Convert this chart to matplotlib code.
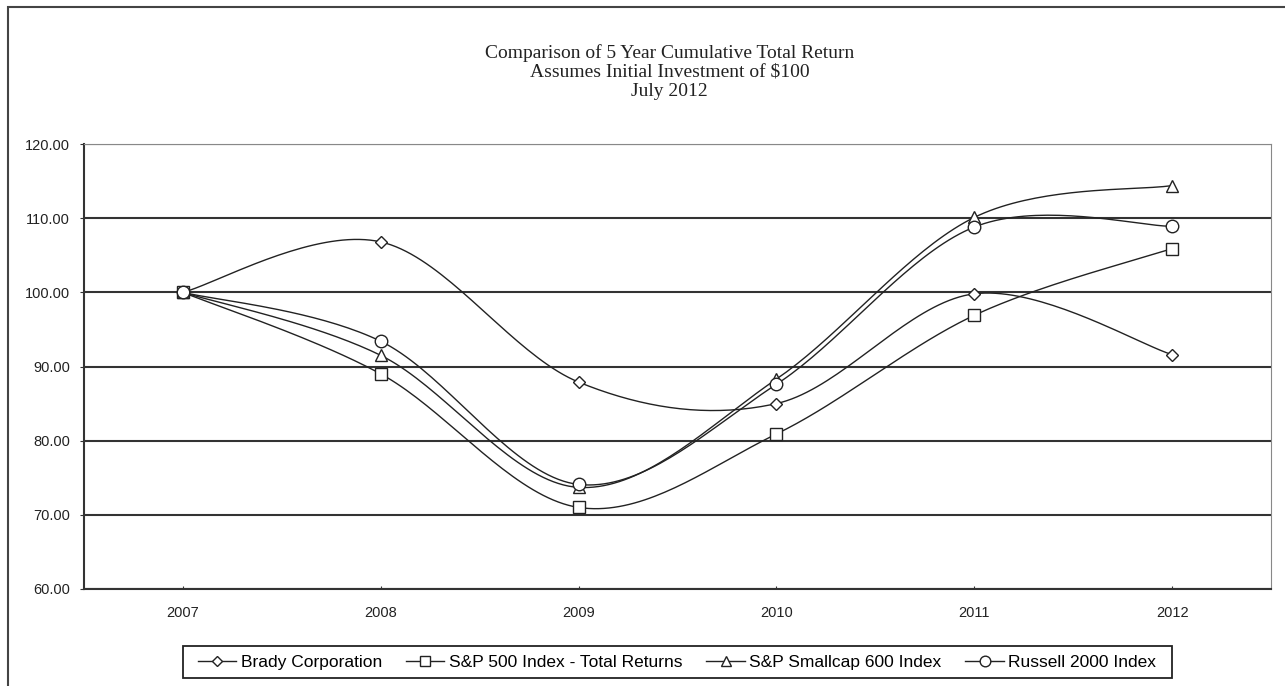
import numpy as np
import matplotlib
matplotlib.use("Agg")
import matplotlib.pyplot as plt
from matplotlib.patches import Rectangle
from matplotlib.lines import Line2D

years = ["2007", "2008", "2009", "2010", "2011", "2012"]
brady = [100.0, 106.8, 87.9, 85.0, 99.8, 91.6]
sp500 = [100.0, 89.0, 71.0, 80.9, 96.9, 105.9]
smallcap = [100.0, 91.5, 73.7, 88.3, 110.1, 114.4]
russell = [100.0, 93.4, 74.1, 87.6, 108.8, 108.9]

names = ["Brady Corporation", "S&P 500 Index - Total Returns",
         "S&P Smallcap 600 Index", "Russell 2000 Index"]
markers = ["D", "s", "^", "o"]
msizes = [6.5, 9, 9, 9]


def smooth(xs, ys, n=40):
    # excel-like smoothed line: cubic bezier with catmull-rom style handles
    xs = np.asarray(xs, float)
    ys = np.asarray(ys, float)
    px, py = [], []
    k = len(xs)
    for i in range(k - 1):
        a = max(i - 1, 0)
        d = min(i + 2, k - 1)
        c1x = xs[i] + (xs[i + 1] - xs[a]) / 6
        c1y = ys[i] + (ys[i + 1] - ys[a]) / 6
        c2x = xs[i + 1] - (xs[d] - xs[i]) / 6
        c2y = ys[i + 1] - (ys[d] - ys[i]) / 6
        t = np.linspace(0, 1, n)
        u = 1 - t
        bx = u**3 * xs[i] + 3 * u**2 * t * c1x + 3 * u * t**2 * c2x + t**3 * xs[i + 1]
        by = u**3 * ys[i] + 3 * u**2 * t * c1y + 3 * u * t**2 * c2y + t**3 * ys[i + 1]
        px.extend(bx)
        py.extend(by)
    return px, py


fig = plt.figure(figsize=(12.85, 6.86), dpi=100)
ax = fig.add_axes([84 / 1285, 97 / 686, 1187 / 1285, 445 / 686])

x = np.arange(len(years))
series = [brady, sp500, smallcap, russell]
handles = []
for vals, name, m, ms in zip(series, names, markers, msizes):
    sx, sy = smooth(x, vals)
    ax.plot(sx, sy, color="#222222", lw=1.0, zorder=3)
    ax.plot(x, vals, linestyle="none", marker=m, ms=ms, mfc="white",
            mec="#222222", mew=1.0, zorder=4)
    handles.append(Line2D([], [], color="#222222", lw=1.0, marker=m,
                          ms=ms * 0.85, mfc="white", mec="#222222", mew=1.0))

ax.set_xlim(-0.5, 5.5)
ax.set_ylim(60, 120)
ax.set_xticks(x)
ax.set_xticklabels(years)
ax.set_yticks(np.arange(60, 121, 10))
ax.set_yticklabels(["%.2f" % v for v in np.arange(60, 121, 10)])
ax.yaxis.grid(True, color="#333333", lw=1.5, zorder=1)
ax.set_axisbelow(True)

for lab in ax.get_xticklabels() + ax.get_yticklabels():
    lab.set_family("Liberation Sans")
    lab.set_fontsize(10.5)
    lab.set_color("#222222")
ax.tick_params(axis="y", direction="out", length=3, pad=7, color="#333333")
ax.tick_params(axis="x", direction="in", length=2, pad=12, color="#333333")

ax.spines["left"].set_color("#333333")
ax.spines["left"].set_linewidth(1.5)
ax.spines["bottom"].set_color("#333333")
ax.spines["bottom"].set_linewidth(1.5)
ax.spines["top"].set_color("#888888")
ax.spines["right"].set_color("#888888")

title_lines = ["Comparison of 5 Year Cumulative Total Return",
               "Assumes Initial Investment of $100",
               "July 2012"]
for txt, ypix in zip(title_lines, [53, 72.5, 92]):
    fig.text(0.521, 1 - ypix / 686, txt, ha="center", va="center",
             family="Liberation Serif", fontsize=14, color="#222222")

leg = fig.legend(handles, names, loc="center", bbox_to_anchor=(677 / 1285, 24 / 686),
                 ncol=4, frameon=False, handlelength=2.2,
                 handletextpad=0.25, columnspacing=1.4, borderpad=0.4,
                 prop={"family": "Liberation Sans", "size": 12.5})

# legend box, drawn wider than the entries like the original
fig.patches.append(Rectangle((183 / 1285, 8 / 686), 989 / 1285, 32 / 686,
                             transform=fig.transFigure, fill=False,
                             edgecolor="#222222", lw=1.3))

fig.patches.append(Rectangle((8 / 1285, -0.05), 1.0, 1 - 7 / 686 + 0.05,
                             transform=fig.transFigure, fill=False,
                             edgecolor="#444444", lw=1.5))

fig.savefig("out.png", dpi=100)
